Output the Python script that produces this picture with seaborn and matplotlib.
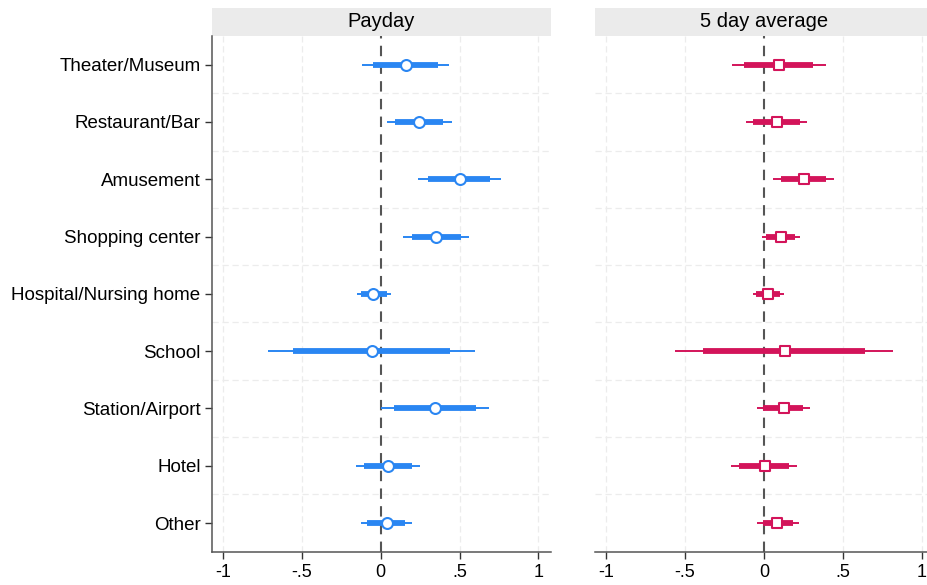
import numpy as np
import pandas as pd
import matplotlib
matplotlib.use("Agg")
import matplotlib.pyplot as plt
from matplotlib.patches import Rectangle
import seaborn as sns

categories = ["Theater/Museum", "Restaurant/Bar", "Amusement", "Shopping center",
              "Hospital/Nursing home", "School", "Station/Airport", "Hotel", "Other"]

# Payday estimates with 90% (thick) and 95% (thin) intervals
payday_coef = [0.162, 0.244, 0.500, 0.352, -0.046, -0.056, 0.345, 0.050, 0.039]
payday_lo95 = [-0.115, 0.039, 0.236, 0.145, -0.151, -0.711, 0.003, -0.157, -0.126]
payday_hi95 = [0.432, 0.453, 0.762, 0.559, 0.067, 0.599, 0.686, 0.252, 0.198]
payday_lo90 = [-0.046, 0.092, 0.303, 0.198, -0.124, -0.553, 0.086, -0.103, -0.088]
payday_hi90 = [0.366, 0.398, 0.694, 0.508, 0.039, 0.440, 0.605, 0.202, 0.155]

# 5 day average estimates
avg_coef = [0.095, 0.083, 0.252, 0.110, 0.025, 0.131, 0.127, 0.004, 0.085]
avg_lo95 = [-0.200, -0.112, 0.057, -0.010, -0.070, -0.561, -0.042, -0.211, -0.042]
avg_hi95 = [0.392, 0.275, 0.444, 0.231, 0.125, 0.815, 0.290, 0.212, 0.220]
avg_lo90 = [-0.123, -0.070, 0.110, 0.015, -0.048, -0.383, -0.006, -0.159, -0.006]
avg_hi90 = [0.311, 0.227, 0.396, 0.195, 0.100, 0.639, 0.248, 0.159, 0.184]

x_ticks = [-1, -0.5, 0, 0.5, 1]
x_tick_labels = ["-1", "-.5", "0", ".5", "1"]
panel_titles = ["Payday", "5 day average"]

sns.set_theme(style="white")
plt.rcParams["font.family"] = ["Liberation Sans", "DejaVu Sans"]

BLUE = "#2a86f2"
RED = "#d3145a"

frames = []
for title, coef, lo95, hi95, lo90, hi90 in [
    (panel_titles[0], payday_coef, payday_lo95, payday_hi95, payday_lo90, payday_hi90),
    (panel_titles[1], avg_coef, avg_lo95, avg_hi95, avg_lo90, avg_hi90),
]:
    frames.append(pd.DataFrame({
        "panel": title, "category": categories, "pos": np.arange(len(categories)),
        "coef": coef, "lo95": lo95, "hi95": hi95, "lo90": lo90, "hi90": hi90,
    }))
df = pd.concat(frames, ignore_index=True)

fig = plt.figure(figsize=(9.27, 5.85), dpi=100)
ax_w, ax_h, ax_b = 0.3657, 0.8815, 0.057
axes = [fig.add_axes([0.2284, ax_b, ax_w, ax_h]),
        fig.add_axes([0.6419, ax_b, ax_w, ax_h])]

styles = [dict(color=BLUE, marker="o", size=62),
          dict(color=RED, marker="s", size=62)]

n = len(categories)
for ax, title, st in zip(axes, panel_titles, styles):
    d = df[df["panel"] == title]
    ax.set_xlim(-1.07, 1.078)
    ax.set_ylim(n - 0.5, -0.5)

    # light dashed grid
    for xv in [-1, -0.5, 0.5, 1]:
        ax.axvline(xv, color="#ececec", lw=0.9, ls=(0, (5, 3)), zorder=0)
    for yv in np.arange(0.5, n - 0.5, 1.0):
        ax.axhline(yv, color="#ececec", lw=0.9, ls=(0, (5, 3)), zorder=0)

    ax.axvline(0, color="#555555", lw=1.5, ls=(0, (5, 3.5)), zorder=1)

    ax.hlines(d["pos"], d["lo95"], d["hi95"], color=st["color"], lw=1.4, zorder=2)
    ax.hlines(d["pos"], d["lo90"], d["hi90"], color=st["color"], lw=4.2, zorder=3)
    sns.scatterplot(data=d, x="coef", y="pos", ax=ax, marker=st["marker"],
                    s=st["size"], facecolor="white", edgecolor=st["color"],
                    linewidth=1.5, zorder=4, legend=False)

    ax.set_xlabel("")
    ax.set_ylabel("")
    ax.set_xticks(x_ticks)
    ax.set_xticklabels(x_tick_labels, fontsize=13)
    ax.tick_params(axis="x", direction="out", length=5, width=1, color="#333333",
                   bottom=True, pad=4, labelcolor="black")
    for side in ["top", "right"]:
        ax.spines[side].set_visible(False)
    ax.spines["bottom"].set_color("#555555")
    ax.spines["bottom"].set_linewidth(1.1)

    # panel header strip
    strip_h = 0.0543
    ax.add_patch(Rectangle((0, 1.0), 1.0, strip_h, transform=ax.transAxes,
                           facecolor="#ebebeb", edgecolor="none", clip_on=False))
    ax.text(0.5, 1.0 + strip_h / 2, title, transform=ax.transAxes, ha="center",
            va="center", fontsize=14.5, color="black")

left, right = axes
left.set_yticks(np.arange(n))
left.set_yticklabels(categories, fontsize=13.5)
left.tick_params(axis="y", direction="out", length=5, width=1, color="#333333",
                 left=True, pad=3, labelcolor="black")
left.spines["left"].set_color("#555555")
left.spines["left"].set_linewidth(1.1)

right.set_yticks([])
right.spines["left"].set_visible(False)

fig.savefig("out.png", dpi=100, facecolor="white")
